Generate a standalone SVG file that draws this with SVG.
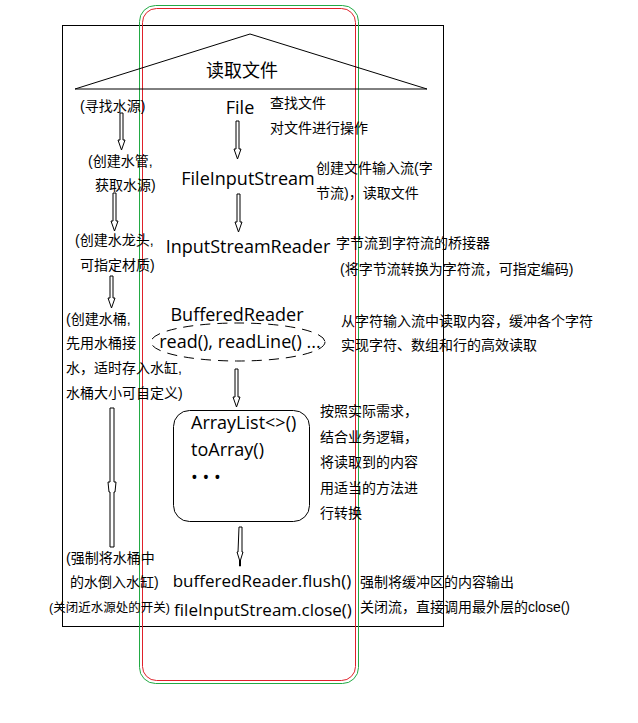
<svg xmlns="http://www.w3.org/2000/svg" width="638" height="723" viewBox="0 0 638 723">
<style>
.cn{font-family:"Liberation Sans","Noto Sans CJK SC",sans-serif;font-size:14px;fill:#000}
.en{font-family:"Open Sans","Noto Sans CJK SC",sans-serif;font-size:18px;fill:#000}
.ln{fill:none;stroke:#000;stroke-width:1}
.ar{fill:#fff;stroke:#000;stroke-width:1}
</style>
<rect width="638" height="723" fill="#fff"/>
<rect x="62.5" y="25.5" width="381" height="601" class="ln"/>
<rect x="139.5" y="5.5" width="219" height="678" rx="16" fill="none" stroke="#22aa44"/>
<rect x="142.5" y="8.5" width="213" height="672" rx="14" fill="none" stroke="#e0202a"/>
<g id="title">
<path d="M75,89 L250,34 L427,89 Z" class="ln"/>
<text x="242" y="77" class="cn" style="font-size:18px" text-anchor="middle">读取文件</text>
</g>
<g id="connectors">
<path class="ar" d="M120,113 h3 v27 h2 l-3.5,10 l-3.5,-10 h2 z"/>
<path class="ar" d="M113,193 h3 v28 h2 l-3.5,10 l-3.5,-10 h2 z"/>
<path class="ar" d="M110,276 h3 v22 h2 l-3.5,10 l-3.5,-10 h2 z"/>
<path class="ar" d="M110,408 h4 v74 h2 l-1,10 h-1 v55 h-4 v-55 h-1 l-1,-10 h2 z"/>
<path class="ar" d="M236,121 h3 v28 h2 l-3.5,10 l-3.5,-10 h2 z"/>
<path class="ar" d="M237,194 h3 v28 h2 l-3.5,10 l-3.5,-10 h2 z"/>
<path class="ar" d="M235,369 h3 v28 h2 l-3.5,10 l-3.5,-10 h2 z"/>
<path class="ar" d="M239,527 h3 v25 h1 l-2.5,8 v6 h-1 v-6 l-2.5,-8 h1 z"/>
</g>
<g id="left-labels">
<text x="80" y="111" class="cn">(寻找水源)</text>
<text x="88" y="166" class="cn">(创建水管,</text>
<text x="95" y="190" class="cn">获取水源)</text>
<text x="75" y="245" class="cn">(创建水龙头,</text>
<text x="80" y="270" class="cn">可指定材质)</text>
<text x="66" y="324" class="cn">(创建水桶,</text>
<text x="66" y="348" class="cn">先用水桶接</text>
<text x="66" y="373" class="cn">水，适时存入水缸,</text>
<text x="66" y="398" class="cn">水桶大小可自定义)</text>
<text x="66" y="563" class="cn">(强制将水桶中</text>
<text x="70" y="587" class="cn">的水倒入水缸)</text>
<text x="49" y="612" class="cn" style="font-size:12.5px">(关闭近水源处的开关)</text>
</g>
<g id="file"><text x="240" y="114" class="en" text-anchor="middle">File</text></g>
<g id="fis"><text x="248" y="185" class="en" text-anchor="middle">FileInputStream</text></g>
<g id="isr"><text x="248" y="253" class="en" text-anchor="middle">InputStreamReader</text></g>
<g id="br">
<text x="237" y="321" class="en" text-anchor="middle">BufferedReader</text>
<ellipse cx="238" cy="342" rx="87" ry="19" fill="none" stroke="#000" stroke-dasharray="10,7"/>
<text x="240" y="348" class="en" text-anchor="middle">read(), readLine() ...</text>
</g>
<g id="list">
<rect x="173.5" y="410.5" width="136" height="111" rx="16" class="ln"/>
<text x="191" y="429" class="en">ArrayList&lt;&gt;()</text>
<text x="191" y="456" class="en">toArray()</text>
<text x="191" y="484" class="en">• • •</text>
</g>
<g id="close">
<text x="262" y="587" class="en" style="font-size:17px" text-anchor="middle">bufferedReader.flush()</text>
<text x="263" y="616" class="en" style="font-size:17px" text-anchor="middle">fileInputStream.close()</text>
</g>
<g id="right-labels">
<text x="270" y="108" class="cn">查找文件</text>
<text x="270" y="133" class="cn">对文件进行操作</text>
<text x="316" y="173" class="cn">创建文件输入流(字</text>
<text x="316" y="198" class="cn">节流)，读取文件</text>
<text x="336" y="248" class="cn">字节流到字符流的桥接器</text>
<text x="340" y="274" class="cn">(将字节流转换为字符流，可指定编码)</text>
<text x="341" y="326" class="cn">从字符输入流中读取内容，缓冲各个字符</text>
<text x="341" y="350" class="cn">实现字符、数组和行的高效读取</text>
<text x="320" y="416" class="cn">按照实际需求，</text>
<text x="320" y="442" class="cn">结合业务逻辑，</text>
<text x="320" y="467" class="cn">将读取到的内容</text>
<text x="320" y="493" class="cn">用适当的方法进</text>
<text x="320" y="518" class="cn">行转换</text>
<text x="360" y="587" class="cn">强制将缓冲区的内容输出</text>
<text x="360" y="612" class="cn">关闭流，直接调用最外层的close()</text>
</g>
</svg>
